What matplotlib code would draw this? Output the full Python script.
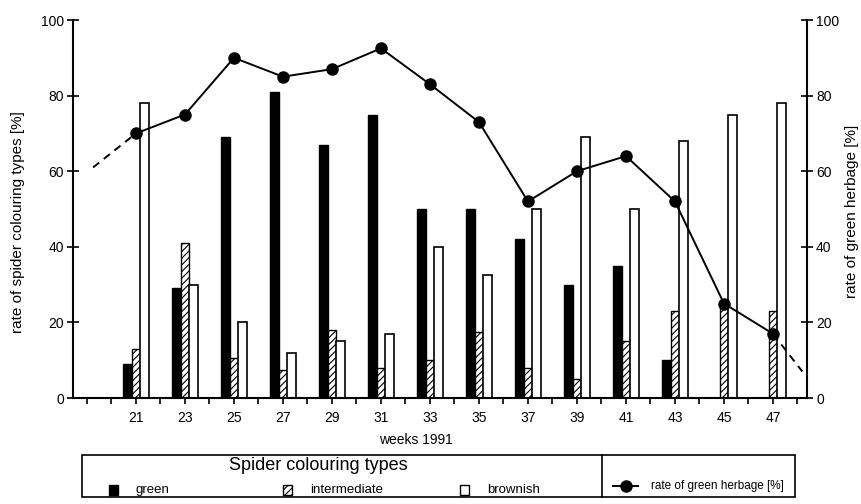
import matplotlib
matplotlib.use("Agg")
import matplotlib.pyplot as plt
from matplotlib.patches import Rectangle

plt.rcParams["font.family"] = ["Liberation Sans", "DejaVu Sans"]
plt.rcParams["hatch.linewidth"] = 0.8

# ---------------------------------------------------------------------------
# data
# ---------------------------------------------------------------------------
weeks = [21, 23, 25, 27, 29, 31, 33, 35, 37, 39, 41, 43, 45, 47]
green = [9, 29, 69, 81, 67, 75, 50, 50, 42, 30, 35, 10, 0, 0]
intermediate = [13, 41, 10.5, 7.5, 18, 8, 10, 17.5, 8, 5, 15, 23, 24, 23]
brownish = [78, 30, 20, 12, 15, 17, 40, 32.5, 50, 69, 50, 68, 75, 78]
herbage = [70, 75, 90, 85, 87, 92.5, 83, 73, 52, 60, 64, 52, 25, 17]

# dashed guesses before the first / after the last sampling date
herb_lead_x = [19.25, 21]
herb_lead_y = [61, 70]
herb_tail_x = [47, 48.2]
herb_tail_y = [17, 7]

week_ticks = list(range(19, 49))
week_labels = [str(w) if w in weeks else "" for w in week_ticks]
pct_ticks = [0, 20, 40, 60, 80, 100]

W, H = 861, 504
fig = plt.figure(figsize=(W / 100, H / 100), dpi=100, facecolor="white")
ax = fig.add_axes([73 / W, (H - 398) / H, 734 / W, 378 / H])

bw = 0.35
xs = list(weeks)
ax.bar([x - bw for x in xs], green, bw, color="black", edgecolor="black",
       linewidth=1.0, zorder=2)
ax.bar(xs, intermediate, bw, color="white", edgecolor="black", hatch="/////",
       linewidth=1.0, zorder=2)
ax.bar([x + bw for x in xs], brownish, bw, color="white", edgecolor="black",
       linewidth=1.2, zorder=2)

ax.set_xlim(18.43, 48.39)
ax.set_ylim(0, 100)
ax.set_xticks(week_ticks)
ax.set_xticklabels(week_labels, fontsize=10)
ax.set_yticks(pct_ticks)
ax.set_yticklabels([str(t) for t in pct_ticks], fontsize=10)
ax.tick_params(axis="x", direction="out", length=4, width=1.2, pad=5)
ax.tick_params(axis="y", direction="inout", length=9, width=1.2, pad=2)
for s in ("top", "right"):
    ax.spines[s].set_visible(False)
for s in ("left", "bottom"):
    ax.spines[s].set_linewidth(1.5)

ax.set_ylabel("rate of spider colouring types [%]", fontsize=11)
ax.yaxis.set_label_coords(-0.066, 0.466)

# herbage on the right-hand axis
ax2 = ax.twinx()
ax2.set_ylim(0, 100)
ax2.plot(weeks, herbage, color="black", linewidth=1.4, marker="o",
         markersize=8, zorder=3)
ax2.plot(herb_lead_x, herb_lead_y, color="black", linewidth=1.4,
         linestyle=(0, (4, 3)))
ax2.plot(herb_tail_x, herb_tail_y, color="black", linewidth=1.4,
         linestyle=(0, (4, 3)))
ax2.set_yticks(pct_ticks)
ax2.set_yticklabels([str(t) for t in pct_ticks], fontsize=10)
ax2.tick_params(axis="y", direction="inout", length=9, width=1.2, pad=2)
for s in ("top", "left", "bottom"):
    ax2.spines[s].set_visible(False)
ax2.spines["right"].set_linewidth(1.5)
ax2.set_ylabel("rate of green herbage [%]", fontsize=11)
ax2.yaxis.set_label_coords(1.052, 0.495)

fig.text(416 / W, 1 - 440 / H, "weeks 1991", fontsize=10,
         ha="center", va="center")

# ---------------------------------------------------------------------------
# legend box, drawn in pixel space on an overlay
# ---------------------------------------------------------------------------
lg = fig.add_axes([0, 0, 1, 1], facecolor="none")
lg.set_xlim(0, W)
lg.set_ylim(H, 0)
lg.axis("off")

lg.add_patch(Rectangle((82, 455), 713, 42, fill=False, edgecolor="black",
                       linewidth=1.2))
lg.plot([602, 602], [455, 497], color="black", linewidth=1.2)
lg.text(318, 465, "Spider colouring types", fontsize=13, ha="center",
        va="center")

row_y = 490
for x0, label, fc, hatch in [(109, "green", "black", None),
                             (283, "intermediate", "white", "/////"),
                             (460, "brownish", "white", None)]:
    lg.add_patch(Rectangle((x0, row_y - 5), 9, 10, facecolor=fc,
                           edgecolor="black", hatch=hatch, linewidth=1.0))
    lg.text(x0 + 27, row_y, label, fontsize=9.5, ha="left", va="center")

lg.plot([613, 638], [486, 486], color="black", linewidth=1.4)
lg.plot([626], [486], marker="o", markersize=8, color="black")
lg.text(651, 486, "rate of green herbage [%]", fontsize=8.5, ha="left",
        va="center")

fig.savefig("out.png", dpi=100, facecolor="white")
